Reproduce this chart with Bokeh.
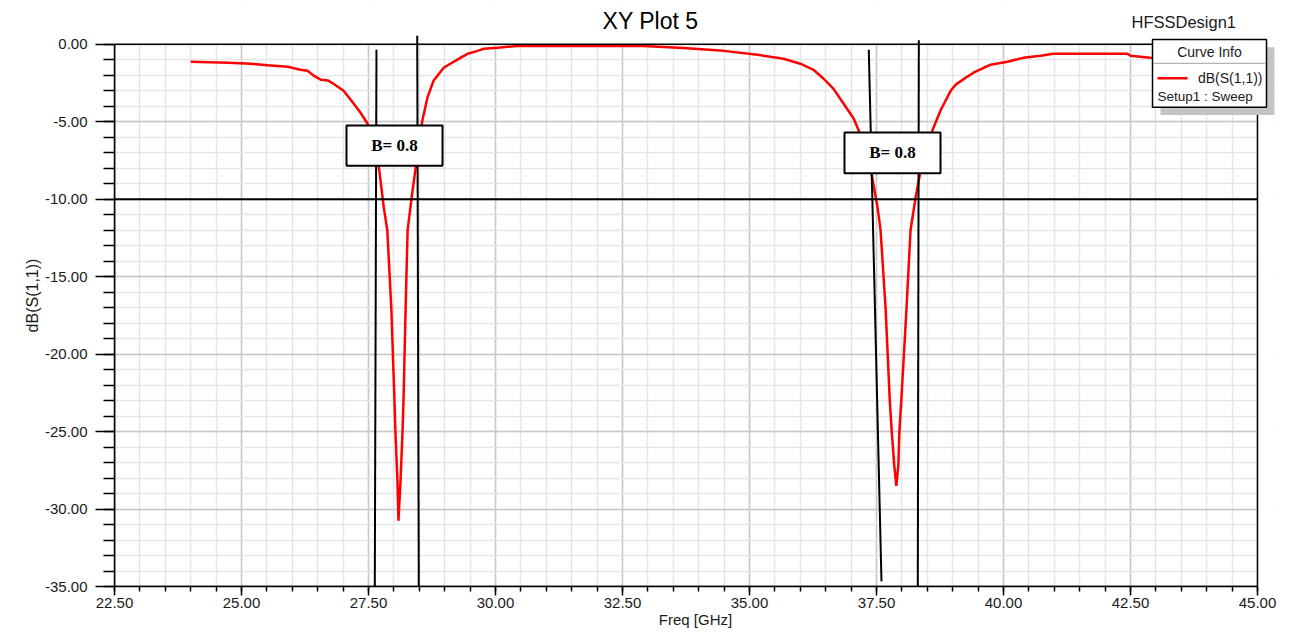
from bokeh.plotting import figure
from bokeh.models import (FixedTicker, PrintfTickFormatter, Arrow, BoxAnnotation,
                          Label, Range1d, ColumnDataSource)
from bokeh.embed import file_html
from bokeh.resources import INLINE

# ---------------- data ----------------
freq_ghz = [24.00, 24.74, 25.18, 25.51, 25.91, 26.16, 26.30, 26.42, 26.56, 26.70, 26.81,
            27.01, 27.15, 27.34, 27.48, 27.70, 27.80, 27.87, 27.95, 28.01, 28.03, 28.07,
            28.09, 28.13, 28.17, 28.19, 28.23, 28.27, 28.35, 28.43, 28.56, 28.66, 28.78,
            28.98, 29.11, 29.31, 29.45, 29.65, 29.76, 30.04, 30.43, 32.91, 33.70, 34.49,
            35.16, 35.67, 36.00, 36.26, 36.46, 36.65, 36.85, 37.05, 37.15, 37.40, 37.52,
            37.58, 37.68, 37.76, 37.80, 37.85, 37.89, 37.93, 37.95, 37.99, 38.09, 38.17,
            38.27, 38.37, 38.60, 38.76, 38.96, 39.06, 39.29, 39.41, 39.61, 39.74, 40.08,
            40.39, 40.73, 40.98, 42.44, 42.50, 42.89, 44.00]
s11_db = [-1.12, -1.19, -1.25, -1.35, -1.45, -1.64, -1.70, -2.02, -2.28, -2.33, -2.54,
          -2.99, -3.57, -4.40, -5.11, -7.81, -10.51, -11.99, -17.1, -22.9, -25.0, -28.2,
          -30.75, -28.2, -25.0, -22.9, -17.1, -11.99, -9.87, -7.94, -4.92, -3.44, -2.35,
          -1.51, -1.25, -0.87, -0.61, -0.42, -0.29, -0.22, -0.10, -0.10, -0.24, -0.42,
          -0.67, -0.93, -1.25, -1.64, -2.22, -2.86, -3.82, -4.79, -5.56, -8.32, -10.51,
          -11.99, -17.1, -22.9, -25.0, -27.2, -28.5, -27.2, -25.0, -22.9, -17.1, -12.0,
          -9.87, -8.13, -5.56, -4.27, -3.0, -2.6, -2.08, -1.83, -1.51, -1.32, -1.12,
          -0.87, -0.74, -0.61, -0.61, -0.74, -0.87, -0.95]

x_ticks = [22.5, 25.0, 27.5, 30.0, 32.5, 35.0, 37.5, 40.0, 42.5, 45.0]
x_minor = [22.5 + 0.5 * k for k in range(46)]
y_ticks = [-35, -30, -25, -20, -15, -10, -5, 0]
y_minor = list(range(-35, 1))
x_lim = (22.5, 45.0)
y_lim = (-35.0, 0.0)

threshold_db = -10

# marker lines (bandwidth markers)
mk_x_top = [27.657, 28.459, 37.348, 38.333]
mk_y_top = [-0.35, 0.55, -0.35, 0.27]
mk_x_bot = [27.624, 28.490, 37.598, 38.313]
mk_y_bot = [-35.0, -35.0, -34.67, -35.0]

box_text = ["B= 0.8", "B= 0.8"]
box_left = [27.067, 36.87]
box_right = [28.957, 38.76]
box_top = [-5.24, -5.69]
box_bottom = [-7.84, -8.32]

# ---------------- layout helpers (page pixels -> data) ----------------
PX_PER_X = 1143.0 / 22.5
PX_PER_Y = 544.0 / 35.0

def px_x(px):
    return 22.5 + (px - 114) / PX_PER_X

def px_y(py):
    return -(py - 44) / PX_PER_Y

FONT = "Liberation Sans"
TXT = "#1a1a1a"

# frame extended beyond the plot box so that annotations outside it are not clipped
p = figure(width=1285, height=630,
           x_range=Range1d(x_lim[0], px_x(1276)), y_range=Range1d(y_lim[0], px_y(4)),
           output_backend="svg", toolbar_location=None,
           min_border_left=114, min_border_right=9, min_border_top=4, min_border_bottom=42)

p.outline_line_color = None
p.background_fill_color = "white"
p.border_fill_color = "white"

xt = FixedTicker(ticks=x_ticks, minor_ticks=x_minor)
yt = FixedTicker(ticks=y_ticks, minor_ticks=y_minor)

for ax, t, lim in ((p.xaxis, xt, x_lim), (p.yaxis, yt, y_lim)):
    ax.ticker = t
    ax.bounds = lim
    ax.formatter = PrintfTickFormatter(format="%.2f")
    ax.axis_line_color = "black"
    ax.axis_line_width = 1.5
    ax.major_tick_line_color = "black"
    ax.minor_tick_line_color = "black"
    ax.major_tick_line_width = 1.5
    ax.minor_tick_line_width = 1.5
    ax.major_tick_in = 0
    ax.minor_tick_in = 0
    ax.major_label_text_font = FONT
    ax.major_label_text_font_size = "15px"
    ax.major_label_text_color = TXT
    ax.axis_label_text_font = FONT
    ax.axis_label_text_font_style = "normal"
    ax.axis_label_text_color = TXT

p.xaxis.major_tick_out = 9
p.xaxis.minor_tick_out = 5
p.xaxis.major_label_standoff = 2
p.xaxis.axis_label_standoff = 0
p.xaxis.axis_label = "Freq [GHz]"
p.xaxis.axis_label_text_font_size = "15px"

p.yaxis.major_tick_out = 19
p.yaxis.minor_tick_out = 11
p.yaxis.major_label_standoff = 8
p.yaxis.axis_label_standoff = 1
p.yaxis.axis_label = "dB(S(1,1))"
p.yaxis.axis_label_text_font_size = "16px"

p.xgrid.ticker = xt
p.ygrid.ticker = yt
for g in (p.xgrid, p.ygrid):
    g.grid_line_color = "#c8c8c8"
    g.grid_line_width = 1.5
    g.minor_grid_line_color = "#e6e6e6"
    g.minor_grid_line_width = 1.5

src = ColumnDataSource(dict(f=freq_ghz, db=s11_db))
p.line("f", "db", source=src, line_color="#ff0000", line_width=2.5)

# white covers outside the plot box (hide grid there)
p.add_layout(BoxAnnotation(bottom=y_lim[1], fill_color="white", fill_alpha=1.0, line_alpha=0))
p.add_layout(BoxAnnotation(left=x_lim[1], fill_color="white", fill_alpha=1.0, line_alpha=0))
# plot box border
p.add_layout(BoxAnnotation(left=x_lim[0], right=x_lim[1], top=y_lim[1], bottom=y_lim[0],
                           fill_alpha=0.0, line_color="black", line_width=1.5, line_alpha=1.0))

# -10 dB reference line
p.add_layout(Arrow(end=None, x_start=x_lim[0], y_start=threshold_db, x_end=x_lim[1],
                   y_end=threshold_db, line_color="black", line_width=2))

for xs, ys, xe, ye in zip(mk_x_top, mk_y_top, mk_x_bot, mk_y_bot):
    p.add_layout(Arrow(end=None, x_start=xs, y_start=ys, x_end=xe, y_end=ye,
                       line_color="black", line_width=2))

for t, l, r, tp, b in zip(box_text, box_left, box_right, box_top, box_bottom):
    p.add_layout(BoxAnnotation(left=l, right=r, top=tp, bottom=b, fill_color="white",
                               fill_alpha=1.0, line_color="black", line_width=2, line_alpha=1.0))
    p.add_layout(Label(x=(l + r) / 2, y=(tp + b) / 2, text=t, text_align="center",
                       text_baseline="middle", text_font="Liberation Serif",
                       text_font_style="bold", text_font_size="17px", text_color="black"))

# title and design name
p.add_layout(Label(x=px_x(650), y=px_y(21), text="XY Plot 5", text_align="center",
                   text_baseline="middle", text_font=FONT, text_font_size="23px",
                   text_color="black"))
p.add_layout(Label(x=px_x(1131), y=px_y(22), text="HFSSDesign1", text_align="left",
                   text_baseline="middle", text_font=FONT, text_font_size="16.5px",
                   text_color=TXT))

# curve info box
p.add_layout(BoxAnnotation(left=px_x(1160), right=px_x(1274), top=px_y(47), bottom=px_y(115),
                           fill_color="#c4c4c4", fill_alpha=1.0, line_alpha=0))
p.add_layout(BoxAnnotation(left=px_x(1152), right=px_x(1266), top=px_y(39), bottom=px_y(107),
                           fill_color="white", fill_alpha=1.0, line_color="black",
                           line_width=1.5, line_alpha=1.0))
p.add_layout(Arrow(end=None, x_start=px_x(1153), y_start=px_y(63), x_end=px_x(1265),
                   y_end=px_y(63), line_color="#a0a0a0", line_width=1))
p.add_layout(Label(x=px_x(1209), y=px_y(52), text="Curve Info", text_align="center",
                   text_baseline="middle", text_font=FONT, text_font_size="14px",
                   text_color=TXT))
p.add_layout(Arrow(end=None, x_start=px_x(1157), y_start=px_y(78), x_end=px_x(1187),
                   y_end=px_y(78), line_color="#ff0000", line_width=2.5))
p.add_layout(Label(x=px_x(1262), y=px_y(78), text="dB(S(1,1))", text_align="right",
                   text_baseline="middle", text_font=FONT, text_font_size="14px",
                   text_color=TXT))
p.add_layout(Label(x=px_x(1157), y=px_y(96), text="Setup1 : Sweep", text_align="left",
                   text_baseline="middle", text_font=FONT, text_font_size="13.5px",
                   text_color=TXT))

open("out.html", "w").write(file_html(p, INLINE))
